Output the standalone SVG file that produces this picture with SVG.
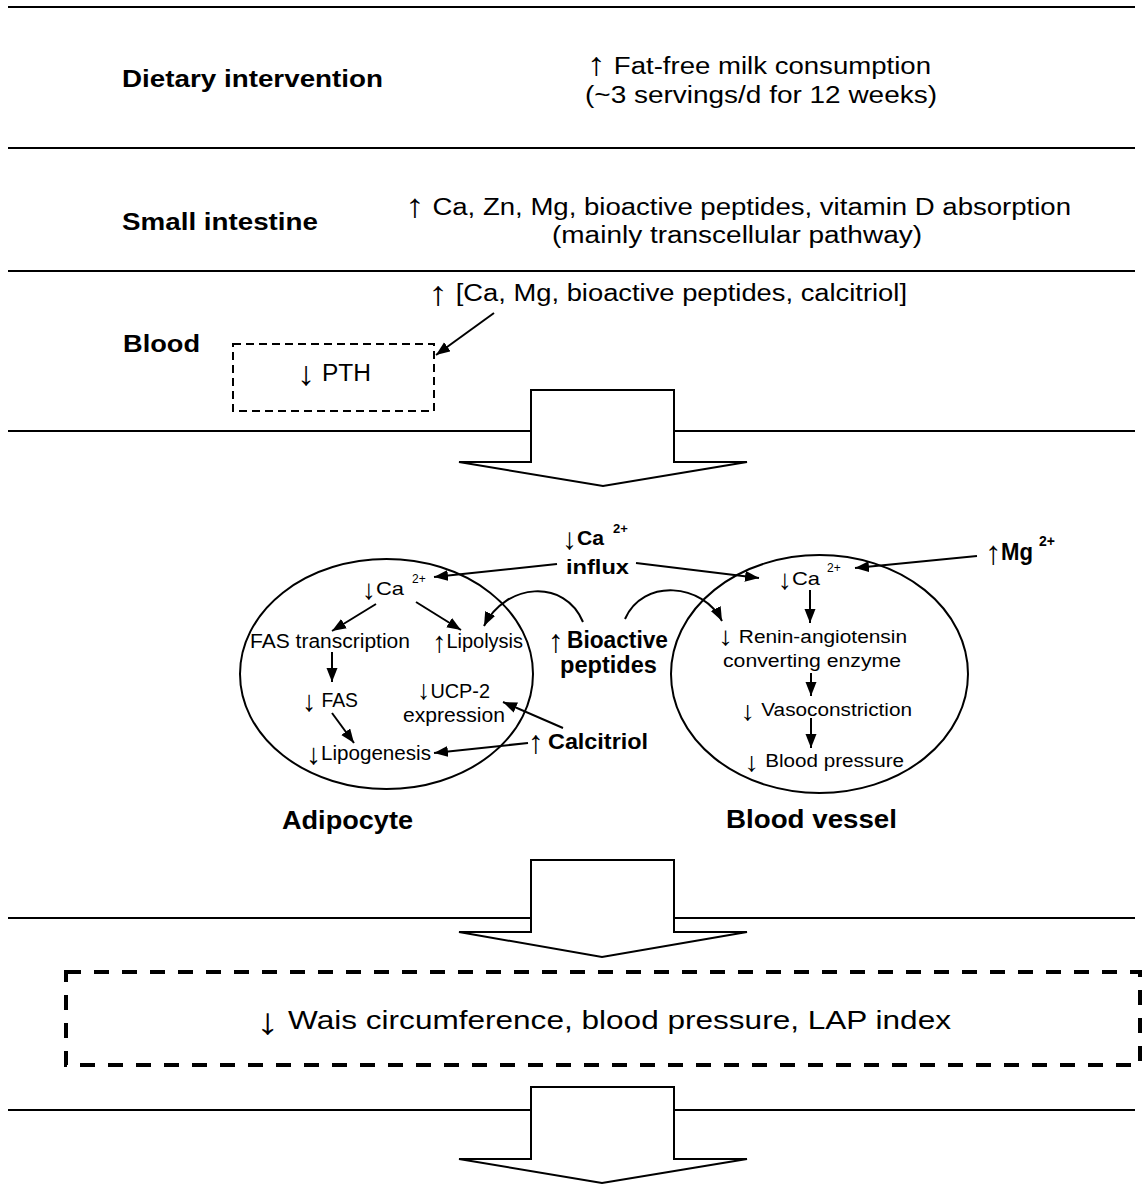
<svg xmlns="http://www.w3.org/2000/svg" width="1143" height="1184" viewBox="0 0 1143 1184">
<defs>
<style>
text{font-family:"Liberation Sans",Arial,sans-serif;fill:#000}
.b{font-weight:bold}
.sep{stroke:#000;stroke-width:2;fill:none}
.blk{stroke:#000;stroke-width:2;fill:#fff;stroke-linejoin:miter}
.con{stroke:#000;stroke-width:2;fill:none;marker-end:url(#ah)}
.cell{stroke:#000;stroke-width:2;fill:none}
</style>
<marker id="ah" markerUnits="userSpaceOnUse" markerWidth="15" markerHeight="12" refX="14" refY="5.5" orient="auto">
<path d="M0,0 L14,5.5 L0,11 z" fill="#000"/>
</marker>
</defs>
<rect width="1143" height="1184" fill="#fff"/>

<g id="separators">
<line class="sep" x1="8" y1="7" x2="1135" y2="7"/>
<line class="sep" x1="8" y1="148" x2="1135" y2="148"/>
<line class="sep" x1="8" y1="271" x2="1135" y2="271"/>
<line class="sep" x1="8" y1="431" x2="1135" y2="431"/>
<line class="sep" x1="8" y1="918" x2="1135" y2="918"/>
<line class="sep" x1="8" y1="1110" x2="1135" y2="1110"/>
</g>

<g id="block-arrows">
<polygon class="blk" points="531,390 674,390 674,462 747,462 603,486 459,462 531,462"/>
<polygon class="blk" points="531,860 674,860 674,932 747,932 602,957 459,932 531,932"/>
<polygon class="blk" points="531,1087 674,1087 674,1159 747,1159 602,1183 459,1159 531,1159"/>
</g>

<g id="dietary">
<text class="b" x="122" y="87" font-size="23" textLength="261" lengthAdjust="spacingAndGlyphs">Dietary intervention</text>
<text x="587" y="74" font-size="23" textLength="344" lengthAdjust="spacingAndGlyphs"><tspan font-size="32" dy="1">↑</tspan><tspan dy="-1"> Fat-free milk consumption</tspan></text>
<text x="585" y="103" font-size="23" textLength="352" lengthAdjust="spacingAndGlyphs">(~3 servings/d for 12 weeks)</text>
</g>

<g id="intestine">
<text class="b" x="122" y="230" font-size="23" textLength="196" lengthAdjust="spacingAndGlyphs">Small intestine</text>
<text x="405" y="215" font-size="23" textLength="666" lengthAdjust="spacingAndGlyphs"><tspan font-size="33" dy="2">↑</tspan><tspan dy="-2"> Ca, Zn, Mg, bioactive peptides, vitamin D absorption</tspan></text>
<text x="552" y="243" font-size="23" textLength="370" lengthAdjust="spacingAndGlyphs">(mainly transcellular pathway)</text>
</g>

<g id="blood">
<text class="b" x="123" y="352" font-size="23" textLength="77" lengthAdjust="spacingAndGlyphs">Blood</text>
<text x="428" y="301" font-size="23" textLength="479" lengthAdjust="spacingAndGlyphs"><tspan font-size="34" dy="4">↑</tspan><tspan dy="-4"> [Ca, Mg, bioactive peptides, calcitriol]</tspan></text>
</g>

<g id="pth">
<rect x="233" y="344" width="201" height="67" fill="none" stroke="#000" stroke-width="2" stroke-dasharray="8 5"/>
<text x="297" y="381" font-size="23" textLength="74" lengthAdjust="spacingAndGlyphs"><tspan font-size="34" dy="4">↓</tspan><tspan dy="-4"> PTH</tspan></text>
</g>

<g id="ca-influx">
<text x="562" y="545" font-size="20"><tspan font-size="30" dy="4">↓</tspan><tspan class="b" x="577" dy="-4" textLength="27" lengthAdjust="spacingAndGlyphs">Ca</tspan><tspan class="b" x="613" dy="-12" font-size="13">2+</tspan></text>
<text class="b" x="566" y="574" font-size="21" textLength="63" lengthAdjust="spacingAndGlyphs">influx</text>
</g>

<g id="mg">
<text x="985" y="560" font-size="23"><tspan font-size="33" dy="4">↑</tspan><tspan class="b" x="1001" dy="-4" textLength="32" lengthAdjust="spacingAndGlyphs">Mg</tspan><tspan class="b" x="1039" dy="-14" font-size="14">2+</tspan></text>
</g>

<g id="adipocyte">
<ellipse class="cell" cx="386.5" cy="674" rx="146.5" ry="115"/>
<text x="362" y="595" font-size="19"><tspan font-size="28" dy="4">↓</tspan><tspan x="376" dy="-4" textLength="28" lengthAdjust="spacingAndGlyphs">Ca</tspan><tspan x="412" dy="-12" font-size="12">2+</tspan></text>
<text x="250" y="648" font-size="20" textLength="160" lengthAdjust="spacingAndGlyphs">FAS transcription</text>
<text x="432" y="648" font-size="20" textLength="91" lengthAdjust="spacingAndGlyphs"><tspan font-size="29" dy="4">↑</tspan><tspan dy="-4">Lipolysis</tspan></text>
<text x="302" y="707" font-size="20" textLength="56" lengthAdjust="spacingAndGlyphs"><tspan font-size="29" dy="4">↓</tspan><tspan dy="-4"> FAS</tspan></text>
<text x="417" y="698" font-size="20" textLength="73" lengthAdjust="spacingAndGlyphs"><tspan font-size="27" dy="1">↓</tspan><tspan dy="-1">UCP-2</tspan></text>
<text x="403" y="722" font-size="20" textLength="102" lengthAdjust="spacingAndGlyphs">expression</text>
<text x="306" y="760" font-size="20" textLength="125" lengthAdjust="spacingAndGlyphs"><tspan font-size="29" dy="4">↓</tspan><tspan dy="-4">Lipogenesis</tspan></text>
<text class="b" x="282" y="829" font-size="25" textLength="131" lengthAdjust="spacingAndGlyphs">Adipocyte</text>
</g>

<g id="bioactive">
<text x="548" y="648" font-size="23"><tspan font-size="32" dy="4">↑</tspan><tspan class="b" x="567" dy="-4" textLength="101" lengthAdjust="spacingAndGlyphs">Bioactive</tspan></text>
<text class="b" x="560" y="673" font-size="23" textLength="97" lengthAdjust="spacingAndGlyphs">peptides</text>
</g>

<g id="calcitriol">
<text x="528" y="749" font-size="22"><tspan font-size="32" dy="4">↑</tspan><tspan class="b" x="548" dy="-4" textLength="100" lengthAdjust="spacingAndGlyphs">Calcitriol</tspan></text>
</g>

<g id="blood-vessel">
<ellipse class="cell" cx="819.5" cy="674" rx="148.5" ry="119"/>
<text x="778" y="585" font-size="19"><tspan font-size="28" dy="4">↓</tspan><tspan x="792" dy="-4" textLength="28" lengthAdjust="spacingAndGlyphs">Ca</tspan><tspan x="827" dy="-13" font-size="12">2+</tspan></text>
<text x="718" y="643" font-size="18" textLength="189" lengthAdjust="spacingAndGlyphs"><tspan font-size="26" dy="2">↓</tspan><tspan dy="-2"> Renin-angiotensin</tspan></text>
<text x="723" y="667" font-size="18" textLength="178" lengthAdjust="spacingAndGlyphs">converting enzyme</text>
<text x="740" y="716" font-size="18" textLength="172" lengthAdjust="spacingAndGlyphs"><tspan font-size="27" dy="4">↓</tspan><tspan dy="-4"> Vasoconstriction</tspan></text>
<text x="744" y="767" font-size="18" textLength="160" lengthAdjust="spacingAndGlyphs"><tspan font-size="27" dy="4">↓</tspan><tspan dy="-4"> Blood pressure</tspan></text>
<text class="b" x="726" y="828" font-size="25" textLength="171" lengthAdjust="spacingAndGlyphs">Blood vessel</text>
</g>

<g id="outcome">
<rect x="66" y="972" width="1074" height="93" fill="none" stroke="#000" stroke-width="4" stroke-dasharray="15 13"/>
<text x="256" y="1029" font-size="25" textLength="695" lengthAdjust="spacingAndGlyphs"><tspan font-size="37" dy="5">↓</tspan><tspan dy="-5"> Wais circumference, blood pressure, LAP index</tspan></text>
</g>

<g id="connectors">
<line class="con" x1="494" y1="313" x2="436" y2="355"/>
<line class="con" x1="557" y1="564" x2="434" y2="577"/>
<line class="con" x1="636" y1="563" x2="759" y2="578"/>
<line class="con" x1="977" y1="556" x2="855" y2="568"/>
<line class="con" x1="376" y1="604" x2="332" y2="631"/>
<line class="con" x1="416" y1="602" x2="461" y2="630"/>
<line class="con" x1="332" y1="652" x2="332" y2="682"/>
<line class="con" x1="332" y1="713" x2="354" y2="743"/>
<line class="con" x1="563" y1="728" x2="503" y2="702"/>
<line class="con" x1="528" y1="743" x2="434" y2="753"/>
<line class="con" x1="810" y1="590" x2="810" y2="623"/>
<line class="con" x1="811" y1="673" x2="811" y2="696"/>
<line class="con" x1="811" y1="718" x2="811" y2="748"/>
<path class="con" d="M583,622 C565,578 505,583 484,626"/>
<path class="con" d="M625,619 C643,578 703,583 722,621"/>
</g>
</svg>
